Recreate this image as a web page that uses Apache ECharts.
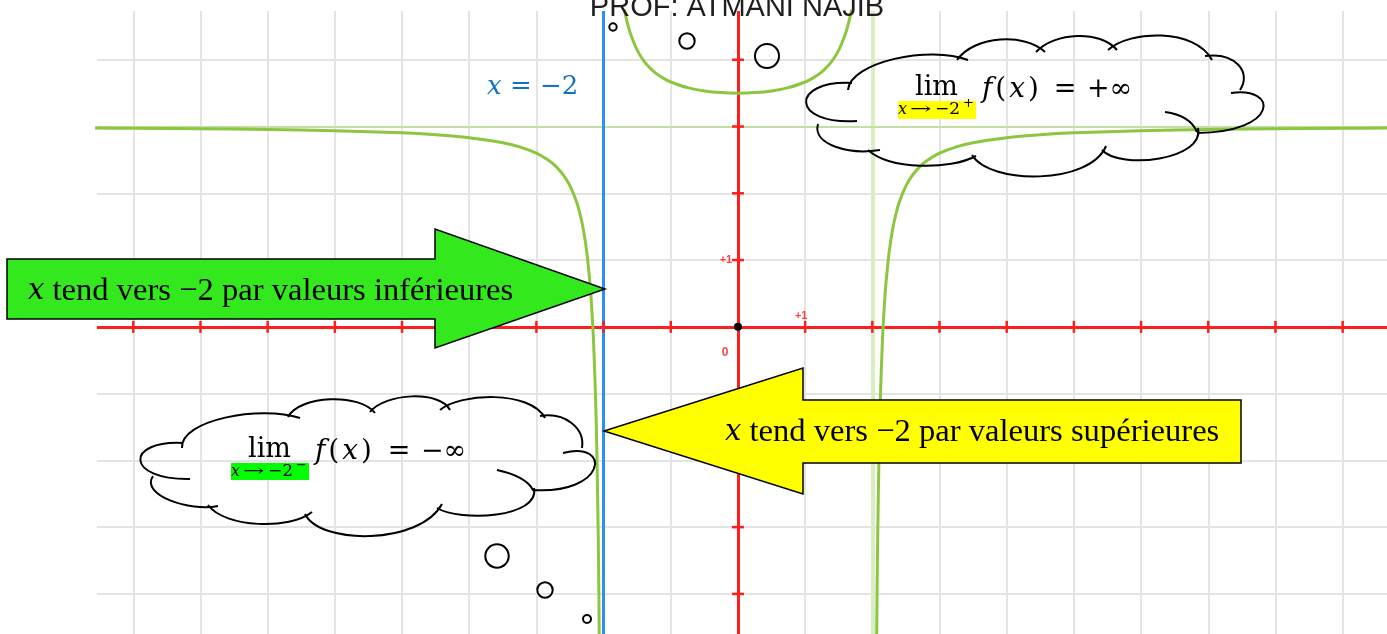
<!DOCTYPE html>
<html><head><meta charset="utf-8">
<script src="https://cdn.jsdelivr.net/npm/echarts@6/dist/echarts.min.js"></script>
<style>html,body{margin:0;padding:0;background:#fff}#c{width:1387px;height:634px}</style>
</head><body><div id="c"></div>
<script>
// ---------- data ----------
const titleText = 'PROF: ATMANI NAJIB';
const xGridValues = [-9,-8,-7,-6,-5,-4,-3,-2,-1,0,1,2,3,4,5,6,7,8,9];
const yGridValues = [-4,-3,-2,-1,0,1,2,3,4];
const xTickValues = [-9,-8,-7,-6,-5,-4,-3,-2,-1,1,2,3,4,5,6,7,8,9];
const yTickValues = [-4,-3,-2,-1,1,2,3,4];
const verticalAsymptoteBlue = -2;
const verticalAsymptoteGreen = 2;
const horizontalAsymptote = 3;
const leftBranch = [[-9.7,2.978],[-9,2.974],[-8,2.967],[-7,2.956],[-6,2.938],[-5,2.905],[-4.5,2.877],[-4,2.833],[-3.5,2.758],[-3.25,2.695],[-3,2.6],[-2.8,2.479],[-2.7,2.392],[-2.6,2.275],[-2.5,2.111],[-2.4,1.864],[-2.35,1.686],[-2.3,1.45],[-2.25,1.118],[-2.2,0.619],[-2.18,0.342],[-2.15,-0.213],[-2.12,-1.045],[-2.1,-1.878],[-2.08,-3.127],[-2.07,-4.02],[-2.06,-5.21],[-2.05,-6.877]];
const middleBranch = [[-1.75,5.133],[-1.7,4.802],[-1.65,4.566],[-1.6,4.389],[-1.5,4.143],[-1.4,3.98],[-1.3,3.868],[-1.2,3.781],[-1.1,3.718],[-1,3.667],[-0.75,3.582],[-0.5,3.533],[-0.25,3.508],[0,3.5],[0.25,3.508],[0.5,3.533],[0.75,3.582],[1,3.667],[1.1,3.718],[1.2,3.781],[1.3,3.868],[1.4,3.98],[1.5,4.143],[1.6,4.389],[1.65,4.566],[1.7,4.802],[1.75,5.133]];
const rightBranch = [[2.05,-6.877],[2.06,-5.21],[2.07,-4.02],[2.08,-3.127],[2.1,-1.878],[2.12,-1.045],[2.15,-0.213],[2.18,0.342],[2.2,0.619],[2.25,1.118],[2.3,1.45],[2.35,1.686],[2.4,1.864],[2.5,2.111],[2.6,2.275],[2.7,2.392],[2.8,2.479],[3,2.6],[3.25,2.695],[3.5,2.758],[4,2.833],[4.5,2.877],[5,2.905],[6,2.938],[7,2.956],[8,2.967],[9,2.974],[9.7,2.978]];
const axisLabelItems = [
  {value:[1,0], text:'+1', offset:[-4,-11], size:11},
  {value:[0,1], text:'+1', offset:[-12,0], size:11},
  {value:[0,0], text:'0', offset:[-13,26], size:12}
];
const arrowLeftText = 'tend vers −2 par valeurs inférieures';
const arrowRightText = 'tend vers −2 par valeurs supérieures';

// ---------- decoration ----------
const serif = 'Liberation Serif';
const mathF = 'DejaVu Serif';
function txt(x, y, text, size, family, extra, el) {
  return Object.assign({type:'text', z:110, silent:true, style:Object.assign({
    x:x, y:y, text:text, fontSize:size, fontFamily:family, fill:'#000',
    align:'left', verticalAlign:'middle'}, extra || {})}, el || {});
}
// cloud lobes: [x1,y1, cpx1,cpy1, cpx2,cpy2, x2,y2]
const cloud1Lobes = [
  [857,121, 790,125, 790,80, 852,83],
  [848,90, 850,62, 930,45, 968,60],
  [957,60, 975,35, 1025,33, 1045,52],
  [1036,52, 1055,32, 1100,30, 1117,50],
  [1108,50, 1130,30, 1195,28, 1212,60],
  [1205,56, 1235,52, 1252,72, 1240,90],
  [1231,93, 1278,86, 1280,132, 1197,133],
  [1165,112, 1180,114, 1192,120, 1197,132],
  [1198,128, 1205,160, 1120,170, 1102,150],
  [1106,146, 1090,185, 990,185, 972,155],
  [976,156, 950,170, 890,170, 868,150],
  [880,150, 850,155, 812,145, 818,124]
];
const cloud2Lobes = [
  [190,479, 125,480, 125,440, 183,443],
  [182,448, 180,420, 260,405, 300,418],
  [288,417, 300,395, 360,393, 375,413],
  [370,412, 385,393, 440,390, 450,410],
  [440,410, 460,393, 530,390, 545,418],
  [540,416, 565,412, 585,428, 582,448],
  [563,453, 612,440, 607,495, 532,490],
  [497,470, 515,474, 528,480, 533,490],
  [534,488, 540,518, 460,522, 437,508],
  [442,504, 420,545, 320,545, 305,514],
  [312,512, 290,530, 225,528, 208,505],
  [218,506, 190,512, 140,495, 153,476]
];

const graphics = [];
graphics.push(txt(737, 7.5, titleText, 29, 'Liberation Sans', {align:'center', fill:'#1e1e1e'}));
graphics.push(txt(487, 87, '{i|x} = −2', 26, mathF, {fill:'#0f72c2', rich:{i:{fontStyle:'italic', fontFamily:mathF, fontSize:26, fill:'#0f72c2'}}}));
graphics.push({type:'polygon', z:105, silent:true,
  shape:{points:[[7,259],[435,259],[435,229],[605,289],[435,348],[435,319],[7,319]]},
  style:{fill:'#33e81d', stroke:'#000', lineWidth:1.5}});
graphics.push({type:'polygon', z:105, silent:true,
  shape:{points:[[1241,400],[803,400],[803,368],[604,431],[803,494],[803,463],[1241,463]]},
  style:{fill:'#ffff00', stroke:'#000', lineWidth:1.5}});
graphics.push(txt(28, 291, '{i|x} ' + arrowLeftText, 32.6, serif, {rich:{i:{fontStyle:'italic', fontFamily:mathF, fontSize:29}}}));
graphics.push(txt(725, 432, '{i|x} ' + arrowRightText, 32.6, serif, {rich:{i:{fontStyle:'italic', fontFamily:mathF, fontSize:29}}}));
cloud1Lobes.concat(cloud2Lobes).forEach(b => graphics.push({type:'bezierCurve', z:100, silent:true,
  shape:{x1:b[0], y1:b[1], cpx1:b[2], cpy1:b[3], cpx2:b[4], cpy2:b[5], x2:b[6], y2:b[7]},
  style:{stroke:'#000', fill:'none', lineWidth:2}}));
[[767,56,12],[687,41,7.7],[613,27,3.7],[497,556,11.7],[545,590,7.7],[587,619,4]].forEach(b =>
  graphics.push({type:'circle', z:100, silent:true, shape:{cx:b[0], cy:b[1], r:b[2]}, style:{fill:'none', stroke:'#000', lineWidth:2}}));
graphics.push({type:'rect', z:104, silent:true, shape:{x:898, y:101, width:78, height:18}, style:{fill:'#ffff00'}});
graphics.push({type:'rect', z:104, silent:true, shape:{x:231, y:463, width:78, height:17}, style:{fill:'#00ff00'}});
function limitText(x0, yMain, ySub, sign, eqX, infText) {
  graphics.push(txt(x0, yMain, 'lim', 27, mathF));
  graphics.push(txt(x0 + 67, yMain + 2, '{i|f}{p|(}{i|x}{p|)}', 28, mathF, {rich:{
    i:{fontStyle:'italic', fontFamily:mathF, fontSize:28},
    p:{fontFamily:mathF, fontSize:28, padding:[0,3,0,3]}}}));
  graphics.push(txt(eqX, yMain + 2, '=', 27, mathF, {align:'center'}));
  graphics.push(txt(eqX + 22, yMain + 2, infText, 27, mathF));
  const sx = x0 - 17;
  graphics.push(txt(sx, ySub, 'x', 16, mathF, {fontStyle:'italic'}));
  graphics.push(txt(0, 0, '→', 16, mathF, null, {x:sx + 12, y:ySub, scaleX:1.6}));
  graphics.push(txt(sx + 37, ySub, '−2', 17, mathF));
  graphics.push(txt(sx + 65, ySub - 6, sign, 13, mathF));
}
limitText(915, 88, 110, '+', 1065, '+∞');
limitText(248, 450, 472, '−', 399, '−∞');

// ---------- chart ----------
const chart = echarts.init(document.getElementById('c'), null, {renderer:'canvas'});
const curveStyle = {color:'#8cc63f', width:3};
function branch(data) {
  return {type:'line', data:data, showSymbol:false, smooth:0.3, z:3,
    lineStyle:curveStyle, itemStyle:{color:'#8cc63f'}, silent:true, clip:true};
}
function tickSeries(data, vertical) {
  return {type:'custom', z:8, silent:true, data:data,
    renderItem:function (params, api) {
      const p = api.coord([api.value(0), api.value(1)]);
      const shape = vertical ? {x1:p[0], y1:p[1] - 6, x2:p[0], y2:p[1] + 6}
                             : {x1:p[0] - 6, y1:p[1], x2:p[0] + 6, y2:p[1]};
      return {type:'line', shape:shape, style:{stroke:'#ff1e1e', lineWidth:2.5}};
    }};
}
chart.setOption({
  animation:false,
  backgroundColor:'#fff',
  grid:{left:97, right:0, top:11, bottom:0},
  xAxis:{type:'value', min:-9.54, max:9.66, show:false},
  yAxis:{type:'value', min:-4.6, max:4.73, show:false},
  series:[
    {type:'line', data:[], z:1, silent:true,
      markLine:{z:1, silent:true, symbol:['none','none'], label:{show:false}, animation:false,
        lineStyle:{color:'#e4e4e4', width:2, type:'solid'},
        data:[...xGridValues.map(v => ({xAxis:v})), ...yGridValues.map(v => ({yAxis:v}))]}},
    {type:'line', data:[], z:2, silent:true,
      markLine:{z:2, silent:true, symbol:['none','none'], label:{show:false}, animation:false,
        data:[
          {xAxis:verticalAsymptoteGreen, lineStyle:{color:'#d6eec0', width:4, type:'solid'}},
          {yAxis:horizontalAsymptote, lineStyle:{color:'#b6e08c', width:1.5, type:'solid'}},
          {yAxis:0, lineStyle:{color:'#ff1e1e', width:3, type:'solid'}},
          {xAxis:0, lineStyle:{color:'#ff1e1e', width:3, type:'solid'}},
          {xAxis:verticalAsymptoteBlue, lineStyle:{color:'#2b8ff5', width:3, type:'solid'}}
        ]}},
    branch(leftBranch), branch(middleBranch), branch(rightBranch),
    tickSeries(xTickValues.map(v => [v, 0]), true),
    tickSeries(yTickValues.map(v => [0, v]), false),
    {type:'scatter', z:9, silent:true, symbol:'circle', symbolSize:8, itemStyle:{color:'#000', opacity:1}, data:[[0,0]]},
    {type:'scatter', z:9, silent:true, symbolSize:0,
      data:axisLabelItems.map(d => ({value:d.value, label:{show:true, position:'inside', offset:d.offset,
        formatter:d.text, color:'#ff1010', fontWeight:'bold', fontSize:d.size, fontFamily:'Liberation Sans',
        align:'center', verticalAlign:'middle'}}))}
  ],
  graphic:graphics
});
</script></body></html>
